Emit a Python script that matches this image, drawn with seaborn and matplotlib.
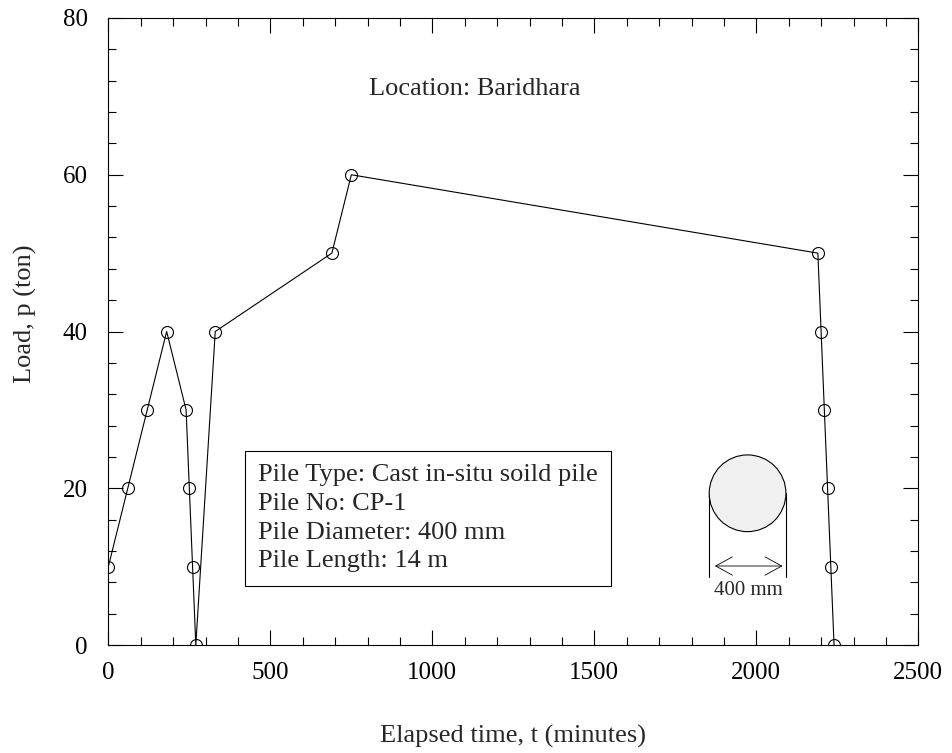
import matplotlib
matplotlib.use("Agg")
import matplotlib.pyplot as plt
import seaborn as sns
import pandas as pd
from matplotlib.patches import Ellipse
from matplotlib.ticker import MultipleLocator, FixedLocator

# Load-time record of the pile test
elapsed_min = [0, 60, 120, 180, 240, 250, 260, 270, 330, 690, 750,
               2190, 2200, 2210, 2220, 2230, 2240]
load_ton = [10, 20, 30, 40, 30, 20, 10, 0, 40, 50, 60,
            50, 40, 30, 20, 10, 0]

x_ticks = [0, 500, 1000, 1500, 2000, 2500]
y_ticks = [0, 20, 40, 60, 80]

location_text = "Location: Baridhara"
pile_info = [
    "Pile Type: Cast in-situ soild pile",
    "Pile No: CP-1",
    "Pile Diameter: 400 mm",
    "Pile Length: 14 m",
]
diameter_text = "400 mm"

sns.set_style("ticks")
plt.rcParams["font.family"] = ["Liberation Serif", "DejaVu Serif"]
plt.rcParams["mathtext.fontset"] = "stix"

df = pd.DataFrame({"t": elapsed_min, "p": load_ton})

fig = plt.figure(figsize=(9.52, 7.53), dpi=100)
ax = fig.add_axes([0.1138, 0.1434, 0.8508, 0.8327])

sns.lineplot(data=df, x="t", y="p", ax=ax, sort=False, estimator=None,
             color="black", linewidth=0.8, marker="o", markersize=8.6,
             markerfacecolor="none", markeredgecolor="black",
             markeredgewidth=0.8)

ax.set_xlim(x_ticks[0], x_ticks[-1])
ax.set_ylim(y_ticks[0], y_ticks[-1])
ax.xaxis.set_major_locator(FixedLocator(x_ticks))
ax.yaxis.set_major_locator(FixedLocator(y_ticks))
ax.xaxis.set_minor_locator(MultipleLocator(100))
ax.yaxis.set_minor_locator(MultipleLocator(4))

ax.tick_params(which="both", direction="in", top=True, right=True,
               width=0.8, colors="black")
ax.tick_params(which="major", length=10.5, labelsize=18)
ax.tick_params(which="minor", length=5.8)
ax.tick_params(axis="y", which="major", pad=15)
ax.tick_params(axis="x", which="major", pad=12)
for sp in ax.spines.values():
    sp.set_visible(True)
    sp.set_linewidth(0.8)
    sp.set_color("black")

ax.set_xlabel("Elapsed time, t (minutes)", fontsize=19)
ax.set_ylabel("Load, p (ton)", fontsize=19)
ax.xaxis.set_label_coords(0.5, -0.127)
ax.yaxis.set_label_coords(-0.088, 0.528)

# Site name
ax.text(1130, 70.9, location_text, fontsize=19, ha="center", va="center")

# Pile description box
ax.text(463, 23.1, "\n".join(pile_info), fontsize=19, ha="left", va="top",
        linespacing=1.4,
        bbox=dict(boxstyle="square,pad=0.5", facecolor="white",
                  edgecolor="black", linewidth=0.8))

# Pile cross-section sketch with diameter dimension
cx, cy, w, h = 1973, 19.36, 236.7, 9.79
ax.add_patch(Ellipse((cx, cy), w, h, facecolor="#f0f0f0",
                     edgecolor="black", linewidth=0.8, zorder=3))
for xe in (cx - w / 2, cx + w / 2):
    ax.plot([xe, xe], [cy, 8.7], color="black", linewidth=0.8)
ax.annotate("", xy=(1872, 10.08), xytext=(2081, 10.08),
            arrowprops=dict(arrowstyle="<->,head_length=0.6,head_width=0.33",
                            color="black", linewidth=0.6,
                            shrinkA=0, shrinkB=0, mutation_scale=20))
ax.text(1976, 6.9, diameter_text, fontsize=15, ha="center", va="center")

fig.savefig("out.png", dpi=100)
